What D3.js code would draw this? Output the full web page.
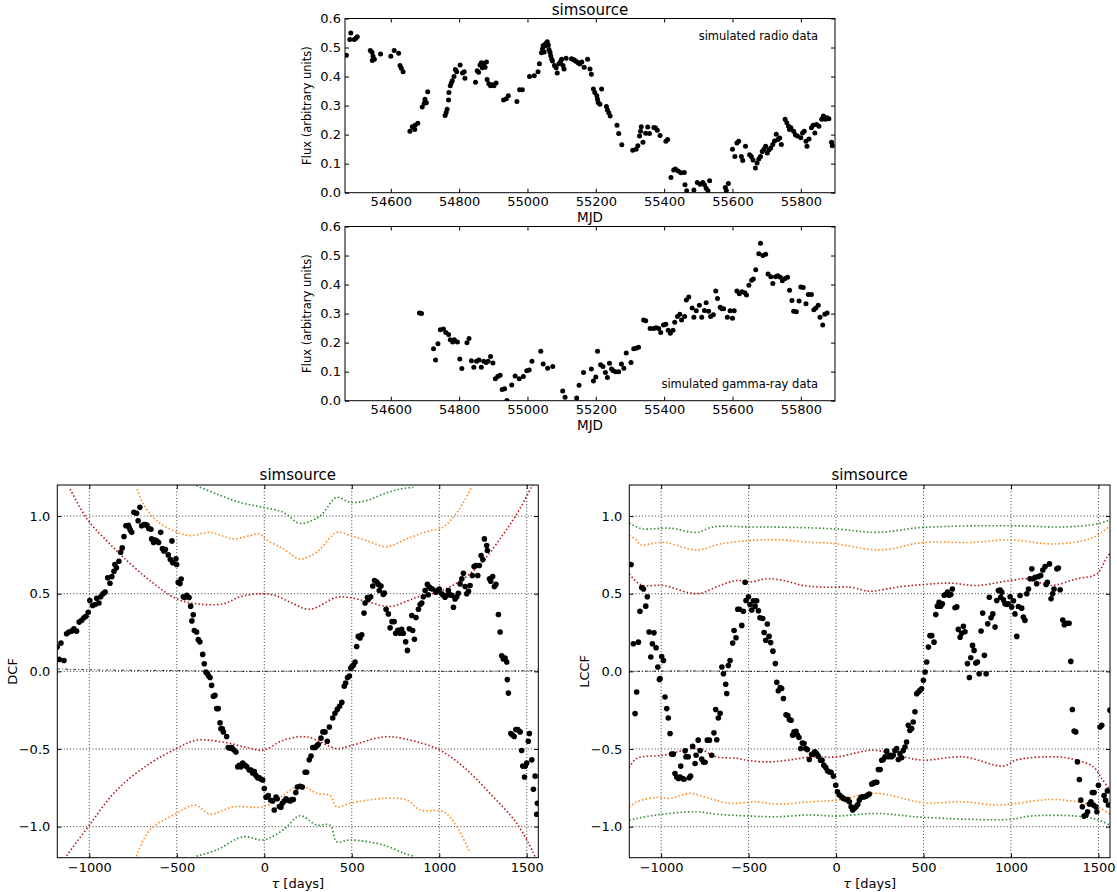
<!DOCTYPE html>
<html><head><meta charset="utf-8">
<script src="https://cdn.jsdelivr.net/npm/d3@7"></script>
<style>body{margin:0;background:#fff;} svg text{font-family:"DejaVu Sans",sans-serif;fill:#000;}</style>
</head><body><svg id="c" width="1117" height="892"></svg>
<script>
// ---------------- DATA ----------------
const titleText = "simsource";
const mjdTicks = [54600, 54800, 55000, 55200, 55400, 55600, 55800];
const fluxTicks = [0.0, 0.1, 0.2, 0.3, 0.4, 0.5, 0.6];
const tauTicks = [-1000, -500, 0, 500, 1000, 1500];
const corrTicks = [-1.0, -0.5, 0.0, 0.5, 1.0];

// [MJD, flux]
const radioData = [[54470,0.473],[54480,0.528],[54483,0.550],[54493,0.528],[54498,0.532],[54502,0.537],[54540,0.490],[54545,0.484],[54546,0.455],[54548,0.470],[54552,0.460],[54570,0.478],[54600,0.470],[54610,0.490],[54623,0.480],[54627,0.438],[54631,0.429],[54636,0.417],[54656,0.212],[54663,0.227],[54670,0.218],[54671,0.232],[54679,0.239],[54692,0.295],[54698,0.308],[54700,0.322],[54704,0.310],[54708,0.348],[54759,0.266],[54762,0.276],[54765,0.287],[54769,0.319],[54770,0.345],[54774,0.368],[54777,0.378],[54780,0.386],[54785,0.400],[54789,0.424],[54793,0.417],[54803,0.440],[54810,0.412],[54815,0.417],[54817,0.394],[54848,0.380],[54853,0.420],[54857,0.415],[54861,0.440],[54865,0.448],[54868,0.430],[54872,0.445],[54876,0.432],[54880,0.450],[54882,0.390],[54887,0.375],[54892,0.368],[54897,0.372],[54902,0.368],[54908,0.378],[54930,0.319],[54938,0.324],[54944,0.334],[54969,0.314],[54977,0.355],[54985,0.355],[55006,0.400],[55020,0.403],[55031,0.417],[55035,0.444],[55041,0.482],[55044,0.496],[55046,0.507],[55049,0.485],[55051,0.505],[55053,0.513],[55056,0.516],[55058,0.520],[55061,0.509],[55063,0.493],[55066,0.484],[55068,0.472],[55071,0.460],[55073,0.454],[55079,0.438],[55084,0.430],[55087,0.412],[55092,0.444],[55097,0.452],[55100,0.460],[55104,0.438],[55107,0.426],[55113,0.463],[55129,0.461],[55135,0.458],[55138,0.456],[55143,0.452],[55148,0.448],[55153,0.443],[55159,0.450],[55166,0.432],[55176,0.460],[55183,0.426],[55187,0.408],[55193,0.357],[55197,0.345],[55203,0.334],[55205,0.322],[55207,0.311],[55212,0.305],[55217,0.357],[55231,0.297],[55234,0.285],[55238,0.275],[55242,0.264],[55262,0.232],[55267,0.204],[55276,0.165],[55308,0.146],[55318,0.150],[55323,0.162],[55328,0.195],[55331,0.212],[55333,0.227],[55338,0.174],[55346,0.205],[55352,0.226],[55357,0.204],[55370,0.225],[55375,0.223],[55380,0.215],[55388,0.197],[55405,0.177],[55410,0.183],[55420,0.052],[55428,0.078],[55433,0.082],[55441,0.075],[55449,0.069],[55459,0.070],[55461,0.027],[55466,0.007],[55487,0.009],[55497,0.035],[55505,0.029],[55513,0.035],[55518,0.027],[55523,0.015],[55528,0.007],[55533,0.041],[55579,0.018],[55582,0.007],[55588,0.032],[55600,0.150],[55607,0.125],[55613,0.171],[55618,0.177],[55626,0.125],[55630,0.111],[55638,0.160],[55650,0.131],[55655,0.125],[55660,0.113],[55667,0.085],[55672,0.102],[55677,0.116],[55682,0.125],[55687,0.142],[55692,0.150],[55697,0.160],[55702,0.137],[55707,0.148],[55712,0.154],[55718,0.166],[55723,0.178],[55728,0.201],[55733,0.183],[55738,0.188],[55743,0.166],[55754,0.253],[55759,0.241],[55764,0.229],[55767,0.218],[55771,0.224],[55779,0.212],[55784,0.200],[55790,0.195],[55800,0.189],[55805,0.206],[55810,0.212],[55815,0.177],[55818,0.160],[55824,0.185],[55831,0.224],[55836,0.232],[55841,0.206],[55846,0.235],[55853,0.229],[55861,0.253],[55866,0.264],[55872,0.253],[55877,0.258],[55882,0.255],[55890,0.174],[55892,0.162]];

// [MJD, flux]
const gammaData = [[54684,0.302],[54690,0.300],[54725,0.179],[54731,0.140],[54738,0.196],[54745,0.244],[54754,0.247],[54761,0.235],[54769,0.228],[54774,0.210],[54781,0.202],[54786,0.210],[54795,0.202],[54802,0.144],[54808,0.111],[54823,0.200],[54829,0.214],[54836,0.138],[54843,0.115],[54851,0.136],[54858,0.140],[54865,0.115],[54872,0.136],[54879,0.132],[54885,0.136],[54892,0.152],[54899,0.130],[54906,0.076],[54913,0.083],[54920,0.088],[54926,0.039],[54933,0.041],[54940,0.001],[54954,0.054],[54964,0.085],[54976,0.076],[54988,0.083],[54998,0.103],[55005,0.106],[55013,0.136],[55039,0.170],[55046,0.126],[55059,0.112],[55074,0.118],[55103,0.033],[55110,0.012],[55144,0.009],[55151,0.053],[55164,0.097],[55187,0.109],[55193,0.068],[55200,0.082],[55205,0.170],[55214,0.124],[55221,0.118],[55228,0.097],[55234,0.080],[55240,0.129],[55246,0.109],[55251,0.103],[55258,0.100],[55267,0.100],[55275,0.126],[55282,0.112],[55289,0.164],[55303,0.132],[55311,0.179],[55318,0.181],[55325,0.184],[55340,0.278],[55346,0.275],[55359,0.249],[55369,0.249],[55376,0.251],[55384,0.249],[55390,0.235],[55398,0.261],[55405,0.263],[55412,0.243],[55418,0.232],[55426,0.243],[55431,0.270],[55439,0.290],[55446,0.298],[55451,0.278],[55460,0.290],[55465,0.347],[55472,0.357],[55482,0.319],[55487,0.287],[55494,0.310],[55503,0.329],[55510,0.287],[55518,0.311],[55523,0.337],[55530,0.308],[55536,0.290],[55544,0.296],[55551,0.378],[55556,0.352],[55564,0.322],[55569,0.317],[55574,0.317],[55585,0.287],[55593,0.310],[55600,0.284],[55605,0.310],[55613,0.378],[55620,0.368],[55628,0.375],[55636,0.372],[55641,0.364],[55648,0.398],[55656,0.415],[55661,0.419],[55668,0.451],[55677,0.506],[55682,0.542],[55689,0.500],[55697,0.504],[55704,0.436],[55712,0.427],[55718,0.404],[55726,0.427],[55733,0.430],[55740,0.425],[55746,0.413],[55754,0.421],[55761,0.425],[55767,0.380],[55774,0.345],[55779,0.308],[55787,0.306],[55795,0.343],[55800,0.392],[55807,0.390],[55815,0.334],[55822,0.366],[55831,0.366],[55838,0.313],[55844,0.319],[55851,0.329],[55856,0.287],[55864,0.261],[55870,0.298],[55877,0.302]];

// DCF points [tau, dcf]
const dcfData = [[-1184,0.156],[-1172,0.077],[-1162,0.182],[-1145,0.070],[-1130,0.242],[-1117,0.253],[-1101,0.259],[-1088,0.274],[-1073,0.259],[-1058,0.317],[-1044,0.328],[-1031,0.345],[-1019,0.355],[-1006,0.381],[-997,0.456],[-981,0.424],[-967,0.430],[-958,0.470],[-945,0.440],[-935,0.480],[-922,0.500],[-910,0.510],[-895,0.602],[-882,0.567],[-871,0.610],[-859,0.645],[-854,0.688],[-845,0.667],[-831,0.709],[-821,0.767],[-812,0.795],[-802,0.868],[-791,0.938],[-777,0.940],[-771,0.925],[-766,0.910],[-758,0.895],[-745,1.024],[-730,1.018],[-721,0.970],[-711,1.056],[-701,0.938],[-688,0.945],[-678,0.945],[-670,0.940],[-660,0.920],[-648,0.915],[-644,0.853],[-633,0.830],[-624,0.845],[-615,0.840],[-604,0.830],[-592,0.895],[-582,0.790],[-574,0.775],[-565,0.785],[-549,0.750],[-537,0.720],[-528,0.840],[-523,0.700],[-505,0.725],[-501,0.688],[-492,0.574],[-482,0.565],[-475,0.595],[-463,0.480],[-455,0.475],[-443,0.490],[-430,0.475],[-421,0.420],[-414,0.325],[-406,0.364],[-400,0.263],[-387,0.253],[-377,0.204],[-368,0.190],[-352,0.109],[-343,0.049],[-333,-0.005],[-325,-0.015],[-318,-0.030],[-310,-0.040],[-301,-0.090],[-291,-0.160],[-282,-0.155],[-272,-0.240],[-263,-0.240],[-253,-0.332],[-248,-0.370],[-240,-0.370],[-234,-0.390],[-215,-0.420],[-206,-0.490],[-197,-0.495],[-186,-0.490],[-175,-0.505],[-162,-0.520],[-152,-0.615],[-143,-0.605],[-133,-0.615],[-123,-0.590],[-110,-0.605],[-100,-0.615],[-86,-0.635],[-76,-0.635],[-67,-0.655],[-57,-0.645],[-48,-0.670],[-38,-0.685],[-28,-0.685],[-19,-0.695],[-9,-0.700],[0,-0.754],[10,-0.810],[23,-0.800],[37,-0.830],[48,-0.835],[57,-0.893],[67,-0.810],[74,-0.820],[86,-0.870],[95,-0.875],[103,-0.850],[114,-0.835],[124,-0.820],[138,-0.830],[148,-0.835],[158,-0.825],[166,-0.825],[180,-0.780],[189,-0.745],[204,-0.740],[217,-0.745],[233,-0.650],[242,-0.650],[257,-0.570],[267,-0.545],[277,-0.490],[290,-0.490],[300,-0.480],[309,-0.470],[324,-0.430],[335,-0.390],[347,-0.390],[360,-0.450],[372,-0.358],[391,-0.300],[404,-0.270],[417,-0.245],[430,-0.225],[443,-0.200],[457,-0.096],[465,-0.075],[476,-0.040],[486,-0.030],[494,0.020],[500,0.030],[509,0.040],[519,0.060],[528,0.160],[537,0.225],[547,0.215],[557,0.235],[570,0.375],[576,0.440],[589,0.475],[595,0.465],[608,0.480],[620,0.550],[630,0.585],[643,0.575],[652,0.560],[657,0.520],[667,0.550],[680,0.495],[686,0.505],[696,0.400],[709,0.370],[719,0.280],[730,0.320],[742,0.320],[751,0.245],[763,0.265],[776,0.245],[785,0.270],[795,0.245],[808,0.190],[818,0.135],[829,0.274],[843,0.360],[848,0.263],[858,0.206],[867,0.347],[881,0.400],[891,0.430],[900,0.440],[909,0.480],[919,0.520],[932,0.560],[937,0.493],[942,0.545],[950,0.535],[960,0.530],[981,0.510],[989,0.520],[1000,0.530],[1014,0.500],[1023,0.490],[1033,0.477],[1043,0.490],[1052,0.520],[1062,0.493],[1071,0.490],[1081,0.413],[1090,0.466],[1100,0.480],[1109,0.503],[1119,0.563],[1129,0.596],[1138,0.632],[1148,0.546],[1157,0.500],[1167,0.516],[1176,0.553],[1189,0.617],[1199,0.675],[1208,0.682],[1220,0.617],[1229,0.682],[1239,0.746],[1249,0.720],[1258,0.853],[1271,0.810],[1275,0.778],[1287,0.596],[1294,0.580],[1305,0.610],[1315,0.546],[1324,0.560],[1338,0.366],[1348,0.253],[1357,0.100],[1366,0.080],[1376,0.085],[1386,0.060],[1389,-0.053],[1395,-0.140],[1409,-0.400],[1418,-0.410],[1428,-0.420],[1438,-0.375],[1449,-0.375],[1462,-0.390],[1471,-0.510],[1477,-0.610],[1487,-0.680],[1492,-0.610],[1500,-0.590],[1509,-0.450],[1515,-0.400],[1529,-0.570],[1538,-0.760],[1548,-0.675],[1557,-0.920],[1561,-0.850]];

// DCF significance levels [tau, level]
const dcfRedUp = [[-1110,1.174],[-1006,0.970],[-900,0.840],[-806,0.735],[-654,0.585],[-501,0.467],[-387,0.435],[-234,0.435],[-139,0.480],[-25,0.500],[60,0.490],[147,0.445],[261,0.400],[414,0.477],[490,0.475],[585,0.450],[719,0.418],[871,0.477],[1005,0.516],[1138,0.596],[1252,0.713],[1367,0.885],[1443,1.013],[1529,1.190],[1560,1.250]];
const dcfRedLo = [[-1160,-1.250],[-1130,-1.190],[-1006,-1.000],[-844,-0.765],[-654,-0.593],[-501,-0.497],[-387,-0.443],[-215,-0.460],[-101,-0.490],[-6,-0.508],[109,-0.443],[242,-0.422],[414,-0.497],[490,-0.480],[681,-0.422],[795,-0.433],[995,-0.503],[1138,-0.615],[1290,-0.786],[1443,-0.979],[1538,-1.170],[1560,-1.230]];
const dcfOrUp = [[-726,1.174],[-692,1.078],[-615,0.970],[-520,0.906],[-425,0.874],[-310,0.895],[-177,0.853],[-82,0.874],[-25,0.885],[10,0.850],[109,0.789],[204,0.724],[300,0.767],[414,0.895],[490,0.874],[585,0.842],[700,0.803],[814,0.853],[947,0.906],[1005,0.917],[1081,0.992],[1138,1.088],[1186,1.190]];
const dcfOrLo = [[-730,-1.190],[-654,-1.020],[-501,-0.915],[-396,-0.861],[-310,-0.919],[-177,-0.872],[-6,-0.872],[109,-0.797],[204,-0.733],[300,-0.786],[376,-0.800],[414,-0.872],[490,-0.850],[681,-0.818],[814,-0.829],[890,-0.893],[1024,-0.904],[1100,-1.000],[1176,-1.170]];
const dcfGrUp = [[-387,1.195],[-272,1.142],[-139,1.088],[-6,1.056],[109,1.024],[204,0.953],[318,1.000],[414,1.120],[490,1.088],[585,1.100],[681,1.142],[776,1.174],[852,1.185]];
const dcfGrLo = [[-387,-1.190],[-272,-1.150],[-120,-1.065],[-6,-1.086],[109,-1.020],[204,-0.930],[300,-0.990],[376,-0.990],[414,-1.097],[490,-1.086],[681,-1.118],[795,-1.170],[852,-1.190]];
const dcfZero = [[-1183,0.015],[-900,0.008],[-500,0.005],[-200,0.000],[0,0.000],[500,0.005],[1000,0.000],[1566,0.005]];

// LCCF points [tau, lccf]
const lccfData = [[-1172,0.688],[-1159,0.178],[-1149,-0.272],[-1140,-0.133],[-1130,0.188],[-1121,0.387],[-1111,0.540],[-1101,0.530],[-1088,0.420],[-1079,0.480],[-1069,0.253],[-1059,0.092],[-1050,0.178],[-1041,0.248],[-1029,0.152],[-1019,0.028],[-1010,-0.053],[-1006,-0.047],[-997,0.096],[-987,0.070],[-978,-0.165],[-968,-0.240],[-959,-0.300],[-949,-0.400],[-940,-0.533],[-930,-0.533],[-921,-0.658],[-911,-0.680],[-902,-0.690],[-892,-0.680],[-888,-0.610],[-878,-0.690],[-869,-0.695],[-863,-0.512],[-858,-0.550],[-845,-0.550],[-839,-0.685],[-832,-0.675],[-820,-0.482],[-806,-0.593],[-800,-0.540],[-788,-0.443],[-777,-0.510],[-768,-0.565],[-758,-0.585],[-749,-0.585],[-736,-0.443],[-724,-0.443],[-711,-0.540],[-698,-0.396],[-688,-0.246],[-682,-0.440],[-673,-0.300],[-663,-0.270],[-653,0.028],[-644,-0.015],[-631,-0.083],[-625,-0.143],[-616,0.038],[-606,0.070],[-591,0.182],[-583,0.263],[-572,0.216],[-562,0.400],[-553,0.400],[-539,0.296],[-530,0.387],[-520,0.574],[-515,0.456],[-501,0.480],[-492,0.430],[-482,0.395],[-473,0.455],[-463,0.420],[-454,0.455],[-444,0.390],[-435,0.345],[-419,0.340],[-411,0.250],[-402,0.200],[-393,0.305],[-383,0.225],[-374,0.185],[-361,0.130],[-347,0.050],[-339,-0.070],[-330,-0.125],[-320,-0.105],[-311,-0.110],[-301,-0.175],[-286,-0.280],[-276,-0.285],[-267,-0.310],[-257,-0.315],[-248,-0.411],[-240,-0.390],[-229,-0.386],[-221,-0.410],[-212,-0.426],[-202,-0.497],[-193,-0.461],[-183,-0.465],[-174,-0.497],[-164,-0.504],[-153,-0.568],[-140,-0.535],[-130,-0.530],[-121,-0.518],[-111,-0.530],[-102,-0.546],[-89,-0.572],[-80,-0.572],[-70,-0.604],[-59,-0.619],[-49,-0.640],[-40,-0.647],[-29,-0.650],[-15,-0.675],[-2,-0.733],[8,-0.776],[19,-0.797],[31,-0.808],[42,-0.818],[57,-0.825],[67,-0.825],[76,-0.840],[86,-0.872],[95,-0.893],[105,-0.882],[114,-0.872],[124,-0.857],[133,-0.829],[143,-0.811],[152,-0.808],[162,-0.808],[171,-0.804],[181,-0.797],[190,-0.790],[204,-0.726],[213,-0.720],[223,-0.715],[233,-0.714],[242,-0.632],[252,-0.632],[261,-0.572],[270,-0.568],[280,-0.550],[289,-0.514],[299,-0.550],[308,-0.540],[318,-0.550],[327,-0.540],[337,-0.510],[346,-0.497],[356,-0.568],[365,-0.530],[375,-0.556],[384,-0.510],[394,-0.487],[403,-0.455],[413,-0.347],[422,-0.380],[432,-0.368],[441,-0.326],[451,-0.260],[461,-0.144],[470,-0.133],[480,-0.122],[489,-0.112],[499,-0.058],[509,-0.004],[518,0.060],[528,0.156],[537,0.230],[547,0.230],[560,0.188],[570,0.366],[579,0.420],[589,0.445],[598,0.420],[608,0.435],[618,0.490],[627,0.495],[637,0.510],[646,0.490],[656,0.495],[665,0.530],[680,0.410],[690,0.415],[699,0.270],[709,0.220],[718,0.245],[728,0.290],[737,0.255],[751,0.050],[762,-0.040],[770,0.088],[780,0.167],[789,0.135],[799,0.053],[808,0.060],[818,-0.015],[829,0.260],[838,0.375],[848,0.103],[858,-0.015],[867,0.306],[876,0.477],[886,0.345],[896,0.370],[909,0.285],[919,0.456],[928,0.520],[938,0.523],[941,0.477],[947,0.510],[957,0.460],[966,0.435],[976,0.430],[985,0.435],[995,0.480],[1004,0.415],[1014,0.455],[1023,0.370],[1033,0.225],[1042,0.418],[1052,0.488],[1061,0.407],[1071,0.349],[1080,0.328],[1090,0.500],[1100,0.530],[1109,0.596],[1119,0.660],[1128,0.596],[1138,0.606],[1147,0.564],[1157,0.610],[1170,0.617],[1182,0.653],[1195,0.675],[1201,0.560],[1208,0.574],[1220,0.692],[1229,0.467],[1238,0.500],[1246,0.530],[1262,0.660],[1271,0.665],[1281,0.525],[1296,0.330],[1305,0.300],[1318,0.310],[1332,0.310],[1342,0.064],[1351,-0.246],[1361,-0.384],[1370,-0.390],[1380,-0.583],[1391,-0.696],[1399,-0.829],[1408,-0.872],[1418,-0.932],[1429,-0.925],[1438,-0.904],[1448,-0.855],[1457,-0.840],[1465,-0.780],[1471,-0.861],[1475,-0.780],[1485,-0.872],[1491,-0.904],[1500,-0.733],[1509,-0.358],[1519,-0.347],[1532,-0.800],[1541,-0.830],[1551,-0.770],[1557,-0.861],[1566,-0.250]];

// LCCF significance levels [tau, level]
const lccfGrUp = [[-1182,0.955],[-1140,0.930],[-1102,0.917],[-949,0.922],[-796,0.895],[-702,0.930],[-492,0.930],[-300,0.928],[0,0.917],[233,0.895],[499,0.927],[995,0.938],[1300,0.930],[1491,0.949],[1566,0.975]];
const lccfOrUp = [[-1182,0.875],[-1140,0.845],[-1121,0.816],[-987,0.831],[-796,0.782],[-663,0.820],[-492,0.842],[-339,0.848],[-149,0.831],[-34,0.826],[252,0.782],[499,0.830],[766,0.830],[995,0.846],[1243,0.820],[1414,0.842],[1491,0.874],[1566,0.938]];
const lccfRedUp = [[-1182,0.628],[-1140,0.575],[-1102,0.553],[-987,0.553],[-796,0.500],[-663,0.553],[-568,0.585],[-492,0.575],[-396,0.596],[-301,0.585],[-187,0.553],[-72,0.542],[80,0.542],[194,0.516],[347,0.542],[499,0.559],[652,0.568],[805,0.553],[995,0.585],[1100,0.596],[1224,0.553],[1376,0.596],[1491,0.628],[1548,0.735],[1566,0.757]];
const lccfRedLo = [[-1182,-0.620],[-1140,-0.561],[-987,-0.540],[-796,-0.497],[-682,-0.551],[-568,-0.560],[-492,-0.576],[-377,-0.583],[-263,-0.570],[-149,-0.551],[4,-0.551],[213,-0.508],[385,-0.551],[499,-0.572],[728,-0.551],[957,-0.610],[1033,-0.570],[1262,-0.551],[1376,-0.572],[1471,-0.615],[1519,-0.690],[1566,-0.765]];
const lccfOrLo = [[-1182,-0.875],[-1140,-0.840],[-1025,-0.812],[-949,-0.818],[-835,-0.786],[-720,-0.820],[-606,-0.850],[-453,-0.840],[-339,-0.855],[-149,-0.840],[4,-0.829],[233,-0.786],[499,-0.846],[728,-0.840],[919,-0.861],[1033,-0.850],[1224,-0.825],[1376,-0.840],[1491,-0.872],[1566,-0.919]];
const lccfGrLo = [[-1182,-0.958],[-1140,-0.947],[-1025,-0.925],[-796,-0.904],[-682,-0.920],[-492,-0.932],[-339,-0.936],[-149,-0.925],[4,-0.932],[233,-0.915],[499,-0.940],[995,-0.953],[1109,-0.932],[1376,-0.932],[1491,-0.953],[1566,-0.990]];
const lccfZero = [[-1183,0.000],[-800,0.003],[-500,0.000],[0,0.000],[500,0.002],[1000,0.000],[1566,0.002]];

// ---------------- DRAWING ----------------
const svg = d3.select("#c");
const fmt1 = d3.format(".1f");

function makePanel(cfg) {
  const x = d3.scaleLinear().domain(cfg.xdom).range([cfg.x0, cfg.x1]);
  const y = d3.scaleLinear().domain(cfg.ydom).range([cfg.y1, cfg.y0]);
  const g = svg.append("g");
  svg.append("clipPath").attr("id", cfg.id).append("rect")
    .attr("x", cfg.x0).attr("y", cfg.y0).attr("width", cfg.x1 - cfg.x0).attr("height", cfg.y1 - cfg.y0);
  if (cfg.grid) {
    const gg = g.append("g").attr("stroke", "#000").attr("stroke-width", 0.8).attr("stroke-dasharray", "1,2.2");
    cfg.xticks.forEach(t => gg.append("line").attr("x1", x(t)).attr("x2", x(t)).attr("y1", cfg.y0).attr("y2", cfg.y1));
    cfg.yticks.forEach(t => gg.append("line").attr("y1", y(t)).attr("y2", y(t)).attr("x1", cfg.x0).attr("x2", cfg.x1));
  }
  const pg = g.append("g").attr("clip-path", `url(#${cfg.id})`);
  const axes = svg.append("g");
  const style = sel => {
    sel.select(".domain").remove();
    sel.selectAll("text").attr("font-size", cfg.tickFont).attr("font-family", "DejaVu Sans").attr("fill", "#000");
    sel.selectAll("line").attr("stroke", "#000");
    sel.attr("font-family", null).attr("font-size", null);
  };
  axes.append("g").attr("transform", `translate(0,${cfg.y1})`)
    .call(d3.axisBottom(x).tickValues(cfg.xticks).tickFormat(cfg.xfmt).tickSizeInner(-4).tickSizeOuter(0).tickPadding(cfg.padX)).call(style);
  axes.append("g").attr("transform", `translate(0,${cfg.y0})`)
    .call(d3.axisTop(x).tickValues(cfg.xticks).tickFormat("").tickSizeInner(-4).tickSizeOuter(0)).call(style);
  axes.append("g").attr("transform", `translate(${cfg.x0},0)`)
    .call(d3.axisLeft(y).tickValues(cfg.yticks).tickFormat(fmt1).tickSizeInner(-4).tickSizeOuter(0).tickPadding(cfg.padY)).call(style);
  axes.append("g").attr("transform", `translate(${cfg.x1},0)`)
    .call(d3.axisRight(y).tickValues(cfg.yticks).tickFormat("").tickSizeInner(-4).tickSizeOuter(0)).call(style);
  axes.append("rect").attr("x", cfg.x0).attr("y", cfg.y0).attr("width", cfg.x1 - cfg.x0).attr("height", cfg.y1 - cfg.y0)
    .attr("fill", "none").attr("stroke", "#000").attr("stroke-width", 1);
  return {x, y, pg, axes};
}

function dots(p, data, r) {
  p.pg.append("g").selectAll("circle").data(data).join("circle")
    .attr("cx", d => p.x(d[0])).attr("cy", d => p.y(d[1])).attr("r", r).attr("fill", "#000");
}
function dotted(p, data, color, dash, w) {
  const line = d3.line().x(d => p.x(d[0])).y(d => p.y(d[1])).curve(d3.curveCatmullRom.alpha(0.5));
  p.pg.append("path").datum(data).attr("d", line).attr("fill", "none")
    .attr("stroke", color).attr("stroke-width", w).attr("stroke-dasharray", dash);
}
function label(txt, x, y, size, opts = {}) {
  const t = svg.append("text").attr("x", x).attr("y", y).attr("font-size", size)
    .attr("text-anchor", opts.anchor || "middle").text(txt);
  if (opts.rotate) t.attr("transform", `rotate(-90,${x},${y})`);
  return t;
}

const RED = "#b2191c", ORANGE = "#ff8a1c", GREEN = "#2a8a2a";
const DOT = "1.5,2.2";

// Top: radio
const pR = makePanel({id: "cR", x0: 345, x1: 835, y0: 18.5, y1: 192.7, xdom: [54466, 55900], ydom: [0, 0.6],
  xticks: mjdTicks, yticks: fluxTicks, xfmt: d3.format("d"), padX: 4, padY: 4, tickFont: 13, grid: false});
dots(pR, radioData, 2.5);
label(titleText, 590, 15, 15);
label("Flux (arbitrary units)", 311, 105.6, 11.5, {rotate: true});
label("MJD", 590, 222, 13.5);
label("simulated radio data", 818, 39.5, 11.5, {anchor: "end"});

// Middle: gamma
const pG = makePanel({id: "cG", x0: 345, x1: 835, y0: 226.5, y1: 400.7, xdom: [54466, 55900], ydom: [0, 0.6],
  xticks: mjdTicks, yticks: fluxTicks, xfmt: d3.format("d"), padX: 4, padY: 4, tickFont: 13, grid: false});
dots(pG, gammaData, 2.5);
label("Flux (arbitrary units)", 311, 313.6, 11.5, {rotate: true});
label("MJD", 590, 430, 13.5);
label("simulated gamma-ray data", 818, 388, 11.5, {anchor: "end"});

// Bottom-left: DCF
const pD = makePanel({id: "cD", x0: 57.3, x1: 538.3, y0: 485, y1: 857.7, xdom: [-1183, 1566], ydom: [-1.2, 1.2],
  xticks: tauTicks, yticks: corrTicks, xfmt: d3.format("d"), padX: 5, padY: 7, tickFont: 13, grid: true});
[[dcfGrUp, GREEN], [dcfGrLo, GREEN], [dcfOrUp, ORANGE], [dcfOrLo, ORANGE], [dcfRedUp, RED], [dcfRedLo, RED]]
  .forEach(([d, c]) => dotted(pD, d, c, DOT, 1.6));
dotted(pD, dcfZero, "#000", "3,2,1,2", 0.8);
dots(pD, dcfData, 2.8);
label(titleText, 297.8, 480, 15);
label("DCF", 17, 671.4, 13, {rotate: true});

// Bottom-right: LCCF
const pL = makePanel({id: "cL", x0: 629.3, x1: 1110, y0: 485, y1: 857.7, xdom: [-1182, 1566], ydom: [-1.2, 1.2],
  xticks: tauTicks, yticks: corrTicks, xfmt: d3.format("d"), padX: 5, padY: 7, tickFont: 13, grid: true});
[[lccfGrUp, GREEN], [lccfGrLo, GREEN], [lccfOrUp, ORANGE], [lccfOrLo, ORANGE], [lccfRedUp, RED], [lccfRedLo, RED]]
  .forEach(([d, c]) => dotted(pL, d, c, DOT, 1.6));
dotted(pL, lccfZero, "#000", "3,2,1,2", 0.8);
dots(pL, lccfData, 2.8);
label(titleText, 869.6, 480, 15);
label("LCCF", 589, 671.4, 13, {rotate: true});

// tau labels
[[297.8], [869.6]].forEach(([cx]) => {
  const t = svg.append("text").attr("x", cx).attr("y", 888).attr("font-size", 13).attr("text-anchor", "middle");
  t.append("tspan").attr("font-style", "italic").text("τ");
  t.append("tspan").text(" [days]");
});
</script></body></html>
